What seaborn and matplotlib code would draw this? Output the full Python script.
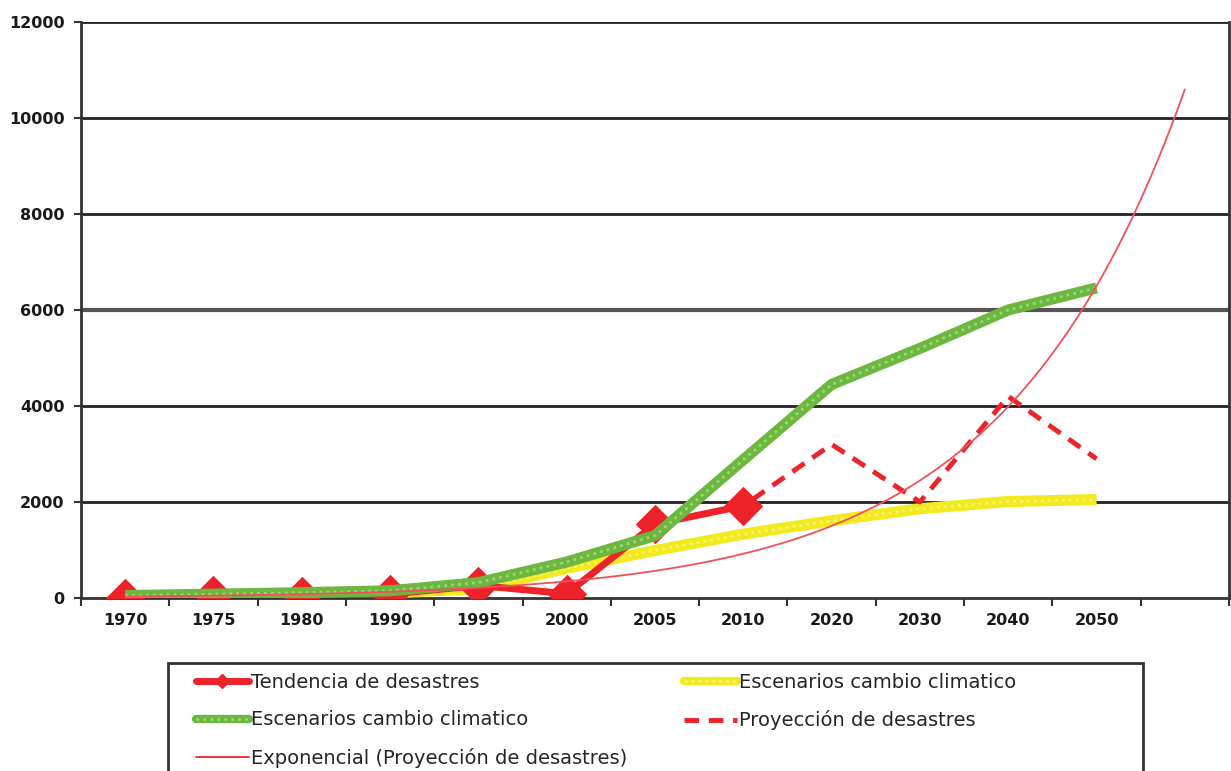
import numpy as np
import pandas as pd
import seaborn as sns
import matplotlib.pyplot as plt
from matplotlib.lines import Line2D
from matplotlib.patches import Rectangle

# categories on the x axis (last slot is empty, used only by the trend line)
years = ['1970', '1975', '1980', '1990', '1995', '2000', '2005', '2010',
         '2020', '2030', '2040', '2050']

# series values
tendencia = [10, 60, 40, 80, 260, 90, 1540, 1920]
proyeccion = [10, 60, 40, 80, 260, 90, 1540, 1920, 3200, 2000, 4200, 2900]
esc_verde = [50, 80, 110, 150, 320, 750, 1300, 2880, 4450, 5200, 6000, 6460]
esc_amarillo = [40, 50, 70, 100, 200, 620, 990, 1330, 1610, 1860, 2010, 2050]
# exponential trend line read at each slot (13 slots)
tendencia_exp = [30, 50, 80, 130, 210, 350, 565, 920, 1500, 2450, 4000, 6500, 10600]

sns.set_theme(style="white")
plt.rcParams['font.family'] = ['DejaVu Sans']

fig = plt.figure(figsize=(12.31, 7.71), dpi=100)
ax = fig.add_axes([81 / 1231, 1 - 598 / 771, 1148 / 1231, 576 / 771])

x_all = np.arange(len(years))
red = '#ee2229'
green = '#6cb83f'
yellow = '#f2ea1c'

# yellow scenario (textured thick line)
sns.lineplot(x=x_all, y=esc_amarillo, ax=ax, color=yellow, lw=8,
             solid_capstyle='butt', solid_joinstyle='round', zorder=3)
sns.lineplot(x=x_all, y=esc_amarillo, ax=ax, color='#f8f27a', lw=2,
             linestyle=(0, (1, 1.5)), zorder=3)

# red trend with diamonds
sns.lineplot(x=x_all[:len(tendencia)], y=tendencia, ax=ax, color=red, lw=5,
             marker='D', markersize=19, markeredgecolor=red, zorder=4)

# projection dashed
sns.lineplot(x=x_all, y=proyeccion, ax=ax, color=red, lw=3.5,
             linestyle=(0, (3, 2)), zorder=4)

# green scenario (textured thick line)
sns.lineplot(x=x_all, y=esc_verde, ax=ax, color=green, lw=8,
             solid_capstyle='butt', solid_joinstyle='round', zorder=5)
sns.lineplot(x=x_all, y=esc_verde, ax=ax, color='#9ed47a', lw=2,
             linestyle=(0, (1, 1.5)), zorder=5)

# exponential trend: fitted through the values read at each slot
xt = np.arange(len(tendencia_exp))
b, a = np.polyfit(xt, np.log(tendencia_exp), 1)
xs = np.linspace(0, len(tendencia_exp) - 1, 200)
sns.lineplot(x=xs, y=np.exp(a + b * xs), ax=ax, color='#f2505a', lw=1.3, zorder=6)

# axes styling
ax.set_xlim(-0.5, 12.5)
ax.set_ylim(0, 12000)
ax.set_yticks(np.arange(0, 12001, 2000))
ax.set_yticklabels([str(v) for v in range(0, 12001, 2000)])
ax.set_xticks(np.arange(-0.5, 13, 1))
ax.set_xticklabels([])
ax.set_xticks(np.arange(len(years)), minor=True)
ax.set_xticklabels(years, minor=True)
ax.tick_params(axis='x', which='major', length=6, width=1.5, color='#333333', direction='out', bottom=True)
ax.tick_params(axis='x', which='minor', length=0, pad=11, labelsize=11.5)
ax.tick_params(axis='y', length=5, width=1.5, color='#333333', direction='out', left=True, labelsize=11.5, pad=7)
for lab in ax.get_xticklabels(minor=True) + ax.get_yticklabels():
    lab.set_fontweight('bold')
    lab.set_color('#1a1a1a')

for v in range(2000, 12001, 2000):
    ax.axhline(v, color='#555555' if v == 6000 else '#222222',
               lw=3 if v == 6000 else 2, zorder=1)

for side in ['left', 'right', 'bottom']:
    ax.spines[side].set_color('#333333')
    ax.spines[side].set_linewidth(2)
ax.spines['top'].set_visible(False)
ax.set_xlabel('')
ax.set_ylabel('')

# legend
h_tend = Line2D([], [], color=red, lw=5, marker='D', markersize=7)
h_verde = (Line2D([], [], color=green, lw=6), Line2D([], [], color='#9ed47a', lw=2, linestyle=(0, (1, 1.5))))
h_amar = (Line2D([], [], color=yellow, lw=6), Line2D([], [], color='#f8f27a', lw=2, linestyle=(0, (1, 1.5))))
h_proy = Line2D([], [], color=red, lw=3.5, linestyle=(0, (3, 2)))
h_exp = Line2D([], [], color=red, lw=1.3)
handles = [h_tend, h_verde, h_exp, h_amar, h_proy]
labels = ['Tendencia de desastres', 'Escenarios cambio climatico',
          'Exponencial (Proyección de desastres)', 'Escenarios cambio climatico',
          'Proyección de desastres']
fig.legend(handles, labels, ncol=2, frameon=False, loc='upper left',
           bbox_to_anchor=(196 / 1231, 1 - 673 / 771), bbox_transform=fig.transFigure,
           fontsize=14, handlelength=2.7, handletextpad=0.15, columnspacing=2.9,
           labelspacing=0.95, borderpad=0, borderaxespad=0)
fig.patches.append(Rectangle((168 / 1231, -0.05), 975 / 1231, 0.05 + 1 - 663 / 771,
                             transform=fig.transFigure, fill=False,
                             edgecolor='#333333', lw=2))

fig.savefig('out.png', dpi=100)
